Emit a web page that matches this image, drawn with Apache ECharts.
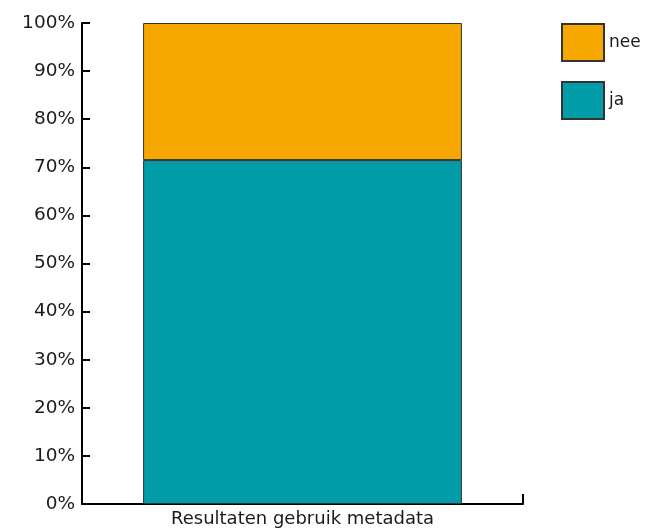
<!DOCTYPE html>
<html>
<head>
<meta charset="utf-8">
<script src="https://cdn.jsdelivr.net/npm/echarts@6/dist/echarts.min.js"></script>
<style>
  html, body { margin: 0; padding: 0; background: #fff; }
  #chart { width: 645px; height: 532px; }
</style>
</head>
<body>
<div id="chart"></div>
<script>
// Share of answers per category (percent)
const categories = ['Resultaten gebruik metadata'];
const ja = [71.5];
const nee = [28.5];
const yTicks = [0, 10, 20, 30, 40, 50, 60, 70, 80, 90, 100];

const font = '"DejaVu Sans", "Open Sans", sans-serif';
const chart = echarts.init(document.getElementById('chart'));

chart.setOption({
  animation: false,
  backgroundColor: '#ffffff',
  grid: { left: 82, right: 122, top: 23, bottom: 28, containLabel: false },
  legend: {
    orient: 'vertical',
    left: 561,
    top: 23,
    padding: 0,
    itemWidth: 42,
    itemHeight: 37,
    itemGap: 19,
    icon: 'rect',
    data: ['nee', 'ja'],
    textStyle: { fontFamily: font, fontSize: 17, color: '#1a1a1a' },
    selectedMode: false
  },
  xAxis: {
    type: 'category',
    data: categories,
    boundaryGap: true,
    axisLine: { lineStyle: { color: '#000', width: 2 } },
    axisTick: { show: true, interval: 0, inside: true, length: 10, lineStyle: { color: '#000', width: 2 } },
    axisLabel: { fontFamily: font, fontSize: 18, color: '#1a1a1a', margin: 6 }
  },
  yAxis: {
    type: 'value',
    min: 0,
    max: 100,
    interval: 10,
    splitLine: { show: false },
    axisLine: { show: true, lineStyle: { color: '#000', width: 2 } },
    axisTick: { show: true, inside: true, length: 8, lineStyle: { color: '#000', width: 2 } },
    axisLabel: {
      fontFamily: font, fontSize: 18.5, color: '#1a1a1a', margin: 7,
      formatter: v => (yTicks.includes(v) ? v + '%' : '')
    }
  },
  series: [
    {
      name: 'ja',
      type: 'bar',
      stack: 'total',
      data: ja,
      barWidth: '72.3%',
      itemStyle: { color: '#029BA8', borderColor: '#333', borderWidth: 1 }
    },
    {
      name: 'nee',
      type: 'bar',
      stack: 'total',
      data: nee,
      barWidth: '72.3%',
      itemStyle: { color: '#F7A800', borderColor: '#333', borderWidth: 1 }
    }
  ]
});
</script>
</body>
</html>
